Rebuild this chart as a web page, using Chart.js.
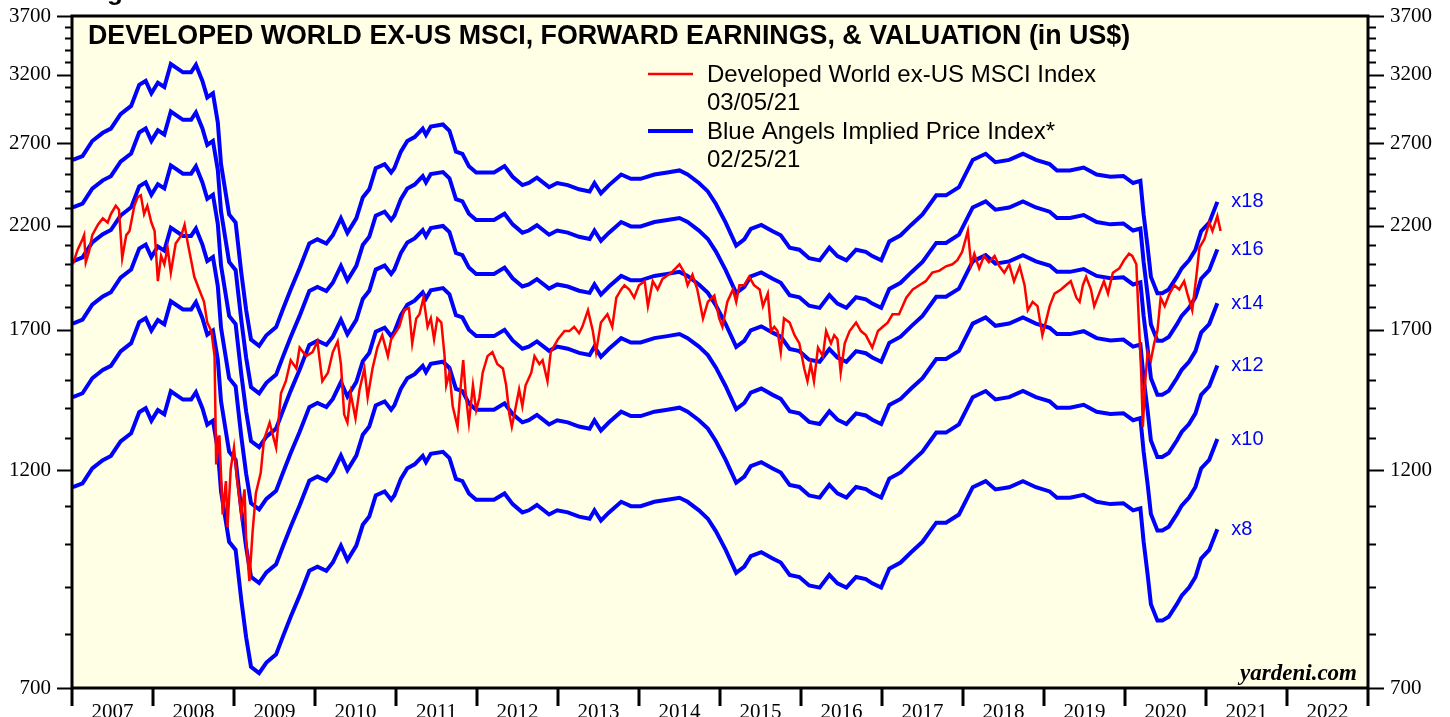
<!DOCTYPE html>
<html>
<head>
<meta charset="utf-8">
<script src="https://cdn.jsdelivr.net/npm/chart.js@4.4.1/dist/chart.umd.min.js"></script>
<style>
  html, body { margin: 0; padding: 0; background: #fff; }
  canvas { display: block; }
</style>
</head>
<body>
<canvas id="chart" width="1450" height="717"></canvas>
<script>
// tick labels
const years = [2007, 2008, 2009, 2010, 2011, 2012, 2013, 2014, 2015, 2016, 2017, 2018, 2019, 2020, 2021, 2022];
const yTickValues = [700, 1200, 1700, 2200, 2700, 3200, 3700];
const multiples = [18, 16, 14, 12, 10, 8];

// forward earnings (US$)
const epsDates = [
  2007.01, 2007.13, 2007.25, 2007.38, 2007.48, 2007.60, 2007.73, 2007.83, 2007.91, 2007.98,
  2008.06, 2008.14, 2008.22, 2008.37, 2008.47, 2008.53, 2008.61, 2008.67, 2008.74, 2008.80,
  2008.84, 2008.94, 2009.02, 2009.09, 2009.15, 2009.21, 2009.31, 2009.40, 2009.52, 2009.60,
  2009.70, 2009.81, 2009.93, 2010.03, 2010.14, 2010.22, 2010.32, 2010.40, 2010.51, 2010.59,
  2010.67, 2010.75, 2010.86, 2010.94, 2010.98, 2011.06, 2011.14, 2011.23, 2011.33, 2011.37,
  2011.43, 2011.58, 2011.66, 2011.74, 2011.82, 2011.90, 2011.99, 2012.09, 2012.21, 2012.34,
  2012.44, 2012.56, 2012.64, 2012.74, 2012.89, 2012.99, 2013.12, 2013.26, 2013.39, 2013.45,
  2013.53, 2013.63, 2013.78, 2013.90, 2014.02, 2014.19, 2014.35, 2014.50, 2014.60, 2014.74,
  2014.85, 2014.95, 2015.07, 2015.20, 2015.30, 2015.38, 2015.51, 2015.65, 2015.75, 2015.86,
  2015.98, 2016.10, 2016.23, 2016.35, 2016.45, 2016.56, 2016.68, 2016.80, 2016.88, 2016.99,
  2017.09, 2017.23, 2017.36, 2017.50, 2017.67, 2017.79, 2017.95, 2018.12, 2018.28, 2018.40,
  2018.57, 2018.74, 2018.90, 2019.07, 2019.16, 2019.32, 2019.49, 2019.65, 2019.82, 2019.98,
  2020.10, 2020.19, 2020.23, 2020.28, 2020.32, 2020.40, 2020.46, 2020.54, 2020.64, 2020.70,
  2020.79, 2020.87, 2020.94, 2021.04, 2021.14
];
const epsValues = [
  143.9, 145.3, 150.8, 153.9, 155.5, 161.2, 164.5, 173.3, 175.0, 169.7,
  174.2, 172.4, 182.5, 178.8, 178.8, 182.1, 175.0, 168.0, 169.7, 157.9,
  142.4, 125.7, 123.2, 108.8, 99.2, 92.2, 90.8, 93.2, 95.1, 99.2,
  104.4, 110.0, 117.0, 118.2, 117.0, 119.4, 124.5, 120.1, 124.5, 131.1,
  133.8, 141.0, 142.4, 139.5, 141.0, 146.9, 150.8, 152.3, 155.5, 153.1,
  156.3, 157.1, 154.7, 146.9, 146.1, 141.7, 139.5, 139.5, 139.5, 141.7,
  138.0, 135.2, 135.9, 137.7, 134.5, 135.9, 135.2, 133.8, 133.1, 135.9,
  132.5, 135.2, 138.8, 137.3, 137.3, 138.8, 139.5, 140.2, 138.8, 135.9,
  133.1, 129.0, 123.2, 116.4, 118.2, 121.3, 122.5, 120.6, 119.4, 115.8,
  115.2, 112.8, 112.2, 115.8, 113.4, 112.2, 115.2, 114.6, 113.4, 112.2,
  117.6, 119.4, 122.5, 125.7, 131.8, 131.8, 134.5, 143.9, 146.1, 143.1,
  143.9, 146.1, 143.9, 142.4, 140.2, 140.2, 141.2, 138.8, 138.0, 138.3,
  135.9, 136.6, 125.7, 115.8, 107.7, 103.4, 103.4, 104.4, 107.7, 110.0,
  112.2, 115.2, 120.6, 123.2, 129.7
];

// Developed World ex-US MSCI index
const msciDates = [
  2007.01, 2007.07, 2007.13, 2007.15, 2007.17, 2007.21, 2007.25, 2007.32, 2007.38, 2007.44,
  2007.48, 2007.54, 2007.58, 2007.62, 2007.67, 2007.71, 2007.77, 2007.81, 2007.85, 2007.89,
  2007.93, 2007.98, 2008.02, 2008.06, 2008.10, 2008.14, 2008.18, 2008.22, 2008.28, 2008.35,
  2008.39, 2008.43, 2008.47, 2008.51, 2008.57, 2008.63, 2008.67, 2008.72, 2008.76, 2008.78,
  2008.82, 2008.86, 2008.90, 2008.92, 2008.96, 2009.00, 2009.04, 2009.09, 2009.13, 2009.15,
  2009.19, 2009.23, 2009.27, 2009.33, 2009.37, 2009.44, 2009.48, 2009.52, 2009.58, 2009.64,
  2009.70, 2009.77, 2009.81, 2009.89, 2009.97, 2010.03, 2010.09, 2010.16, 2010.22, 2010.28,
  2010.32, 2010.36, 2010.40, 2010.44, 2010.50, 2010.55, 2010.61, 2010.65, 2010.71, 2010.77,
  2010.83, 2010.90, 2010.94, 2011.04, 2011.10, 2011.16, 2011.20, 2011.25, 2011.29, 2011.34,
  2011.39, 2011.43, 2011.47, 2011.51, 2011.56, 2011.60, 2011.62, 2011.66, 2011.70, 2011.76,
  2011.80, 2011.83, 2011.86, 2011.90, 2011.95, 2011.99, 2012.03, 2012.07, 2012.13, 2012.19,
  2012.25, 2012.32, 2012.36, 2012.40, 2012.43, 2012.48, 2012.52, 2012.56, 2012.60, 2012.67,
  2012.71, 2012.77, 2012.81, 2012.87, 2012.91, 2013.00, 2013.08, 2013.14, 2013.20, 2013.26,
  2013.30, 2013.37, 2013.43, 2013.47, 2013.53, 2013.61, 2013.67, 2013.72, 2013.78, 2013.82,
  2013.88, 2013.94, 2014.00, 2014.07, 2014.11, 2014.17, 2014.23, 2014.29, 2014.40, 2014.50,
  2014.56, 2014.60, 2014.66, 2014.72, 2014.79, 2014.85, 2014.93, 2014.99, 2015.03, 2015.09,
  2015.16, 2015.20, 2015.24, 2015.30, 2015.36, 2015.42, 2015.49, 2015.53, 2015.59, 2015.63,
  2015.67, 2015.71, 2015.75, 2015.79, 2015.86, 2015.92, 2015.98, 2016.04, 2016.08, 2016.12,
  2016.16, 2016.21, 2016.27, 2016.31, 2016.37, 2016.41, 2016.45, 2016.49, 2016.54, 2016.60,
  2016.68, 2016.74, 2016.80, 2016.88, 2016.95, 2017.01, 2017.07, 2017.13, 2017.21, 2017.30,
  2017.38, 2017.46, 2017.54, 2017.62, 2017.71, 2017.79, 2017.87, 2017.93, 2017.99, 2018.06,
  2018.10, 2018.14, 2018.20, 2018.26, 2018.32, 2018.39, 2018.45, 2018.51, 2018.57, 2018.63,
  2018.70, 2018.76, 2018.80, 2018.86, 2018.92, 2018.98, 2019.02, 2019.07, 2019.13, 2019.21,
  2019.27, 2019.33, 2019.40, 2019.44, 2019.48, 2019.52, 2019.58, 2019.62, 2019.68, 2019.74,
  2019.79, 2019.85, 2019.93, 2019.99, 2020.05, 2020.09, 2020.14, 2020.16, 2020.20, 2020.22,
  2020.25, 2020.28, 2020.32, 2020.36, 2020.40, 2020.44, 2020.49, 2020.55, 2020.61, 2020.67,
  2020.73, 2020.77, 2020.83, 2020.88, 2020.92, 2020.98, 2021.04, 2021.08, 2021.14, 2021.18
];
const msciValues = [
  2000, 2074, 2128, 2150, 2010, 2063, 2150, 2206, 2241, 2218,
  2265, 2312, 2289, 2031, 2150, 2172, 2312, 2361, 2373, 2265,
  2312, 2218, 2172, 1918, 2042, 2000, 2085, 1959, 2106, 2150,
  2206, 2106, 2021, 1939, 1879, 1822, 1731, 1695, 1593, 1218,
  1309, 1076, 1169, 1043, 1206, 1270, 1169, 1076, 1145, 1010,
  912, 1032, 1134, 1193, 1295, 1351, 1309, 1270, 1453, 1497,
  1577, 1545, 1627, 1593, 1609, 1652, 1497, 1529, 1609, 1652,
  1562, 1379, 1351, 1453, 1365, 1467, 1545, 1437, 1545, 1627,
  1678, 1593, 1661, 1713, 1785, 1794, 1644, 1749, 1767, 1841,
  1713, 1749, 1661, 1749, 1731, 1593, 1482, 1529, 1407, 1337,
  1482, 1577, 1453, 1351, 1482, 1393, 1437, 1529, 1593, 1609,
  1562, 1545, 1482, 1379, 1337, 1407, 1467, 1407, 1482, 1529,
  1593, 1562, 1577, 1497, 1609, 1661, 1695, 1695, 1713, 1686,
  1713, 1785, 1695, 1609, 1731, 1767, 1713, 1841, 1879, 1899,
  1879, 1841, 1899, 1918, 1803, 1918, 1879, 1929, 1959, 2000,
  1959, 1899, 1949, 1879, 1749, 1822, 1851, 1749, 1713, 1822,
  1879, 1822, 1899, 1899, 1939, 1899, 1879, 1803, 1860, 1695,
  1713, 1695, 1609, 1749, 1731, 1678, 1644, 1545, 1497, 1562,
  1497, 1627, 1593, 1695, 1644, 1678, 1661, 1529, 1644, 1695,
  1731, 1695, 1678, 1627, 1695, 1713, 1731, 1767, 1767, 1841,
  1879, 1899, 1918, 1959, 1969, 1990, 2000, 2021, 2063, 2172,
  2000, 2053, 1980, 2042, 2010, 2042, 1990, 1959, 2000, 1918,
  1990, 1899, 1785, 1822, 1803, 1678, 1731, 1803, 1860, 1879,
  1899, 1918, 1841, 1822, 1899, 1939, 1879, 1803, 1860, 1918,
  1860, 1959, 1980, 2021, 2053, 2042, 2000, 1822, 1529, 1337,
  1497, 1609, 1577, 1644, 1695, 1841, 1803, 1860, 1899, 1879,
  1918, 1860, 1785, 1939, 2085, 2128, 2218, 2172, 2254, 2172
];

const SANS = '"Liberation Sans", Arial, sans-serif';
const SERIF = '"Liberation Serif", "Times New Roman", serif';

function points(dates, values, k) {
  return dates.map((d, i) => ({ x: d, y: values[i] * k }));
}

let datasets = multiples.map(m => ({
  label: 'x' + m,
  data: points(epsDates, epsValues, m),
  borderColor: '#0000ff',
  borderWidth: 4,
  pointRadius: 0,
  tension: 0,
  order: 1
}));
datasets.push({
  label: 'Developed World ex-US MSCI Index',
  data: points(msciDates, msciValues, 1),
  borderColor: '#ff0000',
  borderWidth: 2.5,
  pointRadius: 0,
  tension: 0,
  order: 0
});

const decor = {
  id: 'decor',
  beforeDraw(chart) {
    const { ctx, chartArea: a } = chart;
    ctx.save();
    ctx.fillStyle = '#ffffff';
    ctx.fillRect(0, 0, chart.width, chart.height);
    ctx.fillStyle = 'rgb(255,255,230)';
    ctx.fillRect(a.left, a.top, a.right - a.left, a.bottom - a.top);
    ctx.restore();
  },
  afterDatasetsDraw(chart) {
    const { ctx, chartArea: a, scales } = chart;
    ctx.save();
    ctx.strokeStyle = '#000';
    ctx.lineWidth = 3;
    ctx.strokeRect(a.left, a.top, a.right - a.left, a.bottom - a.top);

    // y ticks every 100, long ones at the labels
    ctx.lineWidth = 2;
    for (let v = 700; v <= 3700; v += 100) {
      const y = Math.round(scales.y.getPixelForValue(v)) + 0.5;
      const len = yTickValues.includes(v) ? 15 : 7;
      ctx.beginPath();
      ctx.moveTo(a.left - len, y); ctx.lineTo(a.left, y);
      ctx.moveTo(a.right, y); ctx.lineTo(a.right + len + 1, y);
      ctx.stroke();
    }
    // year boundaries
    ctx.lineWidth = 3;
    for (let yr = years[0]; yr <= years[years.length - 1] + 1; yr++) {
      const x = scales.x.getPixelForValue(yr);
      ctx.beginPath();
      ctx.moveTo(x, a.bottom); ctx.lineTo(x, a.bottom + 18);
      ctx.stroke();
    }
    ctx.restore();
  },
  afterDraw(chart) {
    const { ctx, scales } = chart;
    ctx.save();
    ctx.fillStyle = '#000';
    ctx.textBaseline = 'alphabetic';
    ctx.font = 'bold 26px ' + SANS;
    ctx.fillText('Figure', 84, 0);

    ctx.textBaseline = 'middle';
    ctx.font = 'bold 26.8px ' + SANS;
    ctx.fillText('DEVELOPED WORLD EX-US MSCI, FORWARD EARNINGS, & VALUATION (in US$)', 88, 37);

    // legend
    ctx.lineCap = 'butt';
    ctx.strokeStyle = '#ff0000';
    ctx.lineWidth = 2.5;
    ctx.beginPath(); ctx.moveTo(648, 74); ctx.lineTo(693, 74); ctx.stroke();
    ctx.strokeStyle = '#0000ff';
    ctx.lineWidth = 4;
    ctx.beginPath(); ctx.moveTo(648, 131); ctx.lineTo(693, 131); ctx.stroke();
    ctx.font = '24px ' + SANS;
    ctx.fillText('Developed World ex-US MSCI Index', 707, 75);
    ctx.fillText('03/05/21', 707, 103);
    ctx.fillText('Blue Angels Implied Price Index*', 707, 132);
    ctx.fillText('02/25/21', 707, 160);

    // multiple labels at the end of each band
    ctx.fillStyle = '#0000ff';
    ctx.font = '20px ' + SANS;
    const last = epsValues.length - 1;
    const xEnd = scales.x.getPixelForValue(epsDates[last]);
    multiples.forEach(m => {
      const y = scales.y.getPixelForValue(epsValues[last] * m);
      ctx.fillText('x' + m, xEnd + 14, y);
    });

    ctx.fillStyle = '#000';
    ctx.textAlign = 'right';
    ctx.textBaseline = 'alphabetic';
    ctx.font = 'italic bold 23px ' + SERIF;
    ctx.fillText('yardeni.com', 1357, 680);
    ctx.restore();
  }
};

const yAxis = (position, width) => ({
  type: 'logarithmic',
  position: position,
  min: 700,
  max: 3700,
  afterBuildTicks: s => { s.ticks = yTickValues.map(v => ({ value: v })); },
  afterFit: s => { s.width = width; s.paddingTop = 0; s.paddingBottom = 0; },
  grid: { display: false },
  border: { display: false },
  ticks: {
    autoSkip: false,
    padding: position === 'left' ? 13 : 14,
    color: '#000',
    font: { family: SERIF, size: 21 },
    callback: v => String(v)
  }
});

new Chart(document.getElementById('chart').getContext('2d'), {
  type: 'line',
  data: { datasets: datasets },
  options: {
    responsive: false,
    animation: false,
    devicePixelRatio: 1,
    layout: { padding: { top: 16, left: 0, right: 0, bottom: 0 } },
    plugins: { legend: { display: false }, tooltip: { enabled: false } },
    scales: {
      x: {
        type: 'linear',
        min: years[0],
        max: years[years.length - 1] + 1,
        afterBuildTicks: s => { s.ticks = years.map(y => ({ value: y + 0.5 })); },
        afterFit: s => { s.height = 29; s.paddingLeft = 0; s.paddingRight = 0; },
        grid: { display: false },
        border: { display: false },
        ticks: {
          autoSkip: false,
          maxRotation: 0,
          padding: 4,
          color: '#000',
          font: { family: SERIF, size: 21 },
          callback: v => String(Math.floor(v))
        }
      },
      y: yAxis('left', 72),
      y2: yAxis('right', 82)
    }
  },
  plugins: [decor]
});
</script>
</body>
</html>
